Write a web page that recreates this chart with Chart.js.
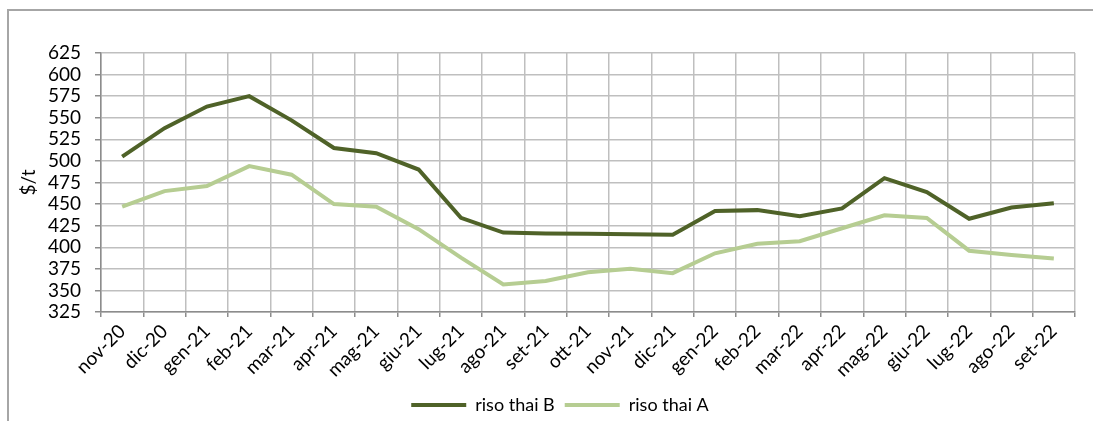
<!DOCTYPE html>
<html><head><meta charset="utf-8">
<script src="https://cdn.jsdelivr.net/npm/chart.js@4.4.0/dist/chart.umd.min.js"></script>
<style>
html,body{margin:0;padding:0;overflow:hidden;background:#fff;width:1093px;height:421px;}
#frame{position:absolute;left:7px;top:9px;width:1200px;height:500px;border-top:2px solid #a6a6a6;border-left:2px solid #a6a6a6;}
#wrap{position:absolute;left:0;top:0;width:1120px;height:424px;}
</style></head><body>
<div id="frame"></div>
<div id="wrap"><canvas id="c" width="1120" height="424"></canvas></div>
<script>
const categories = ["nov-20","dic-20","gen-21","feb-21","mar-21","apr-21","mag-21","giu-21","lug-21","ago-21","set-21","ott-21","nov-21","dic-21","gen-22","feb-22","mar-22","apr-22","mag-22","giu-22","lug-22","ago-22","set-22"];
const risoThaiB = [505,538,563,575,547,515,509,490,434,417,416,415.5,415,414.5,442,443,436,445,480,464,433,446,451];
const risoThaiA = [447,465,471,494,484,450,447,421,388,357,361,371,375,370,393,404,407,422,437,434,396,391,387];
const yMin = 325, yMax = 625, yStep = 25;
const yTitle = "$/t";
const seriesNames = ["riso thai B","riso thai A"];

const darkColor = "#4f6228";
const lightColor = "#b6cd92";
const gridColor = "#bfbfbf";
const axisColor = "#8c8c8c";
const FONT = "Lato";

new Chart(document.getElementById("c"), {
  type: "line",
  data: {
    labels: categories,
    datasets: [
      {label: seriesNames[0], data: risoThaiB, borderColor: darkColor, backgroundColor: darkColor, borderWidth: 4, pointRadius: 0, tension: 0},
      {label: seriesNames[1], data: risoThaiA, borderColor: lightColor, backgroundColor: lightColor, borderWidth: 4, pointRadius: 0, tension: 0}
    ]
  },
  options: {
    responsive: false,
    animation: false,
    devicePixelRatio: 1,
    layout: {padding: {left: 0, right: 0, top: 53, bottom: 0}},
    plugins: {
      tooltip: {enabled: false},
      legend: {
        position: "bottom",
        labels: {
          boxWidth: 55, boxHeight: 4, padding: 10, color: "#000",
          font: {family: FONT, size: 18},
          generateLabels: (chart) => Chart.defaults.plugins.legend.labels.generateLabels(chart).map(l => Object.assign(l, {lineWidth: 0}))
        }
      }
    },
    scales: {
      x: {
        offset: true,
        grid: {offset: true, color: gridColor, lineWidth: 1.5, tickLength: 5, tickColor: axisColor},
        border: {color: axisColor, width: 1.5},
        ticks: {autoSkip: false, maxRotation: 45, minRotation: 45, padding: 3, color: "#000", font: {family: FONT, size: 19}},
        afterFit: (s) => { s.height = 74; }
      },
      y: {
        position: "left",
        min: yMin, max: yMax,
        grid: {color: gridColor, lineWidth: 1.5, tickLength: 6, tickColor: axisColor},
        border: {color: axisColor, width: 1.5},
        ticks: {stepSize: yStep, autoSkip: false, padding: 14, color: "#000", font: {family: FONT, size: 19}},
        title: {display: true, text: yTitle, color: "#000", font: {family: FONT, size: 19}, padding: {top: 17, bottom: 0}},
        afterFit: (s) => { s.width = 101; }
      },
      yRight: {
        position: "right",
        display: true,
        min: 0, max: 1,
        grid: {display: false, drawOnChartArea: false},
        border: {display: false},
        ticks: {display: false},
        afterFit: (s) => { s.width = 45; }
      }
    }
  }
});
</script>
</body></html>
